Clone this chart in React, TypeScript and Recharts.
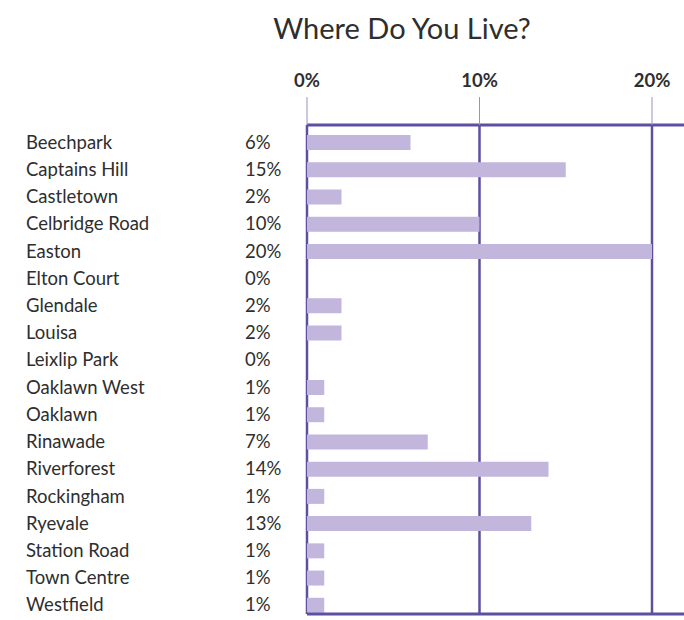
import { BarChart, Bar, XAxis, YAxis, CartesianGrid } from 'recharts';

const areas = [
  'Beechpark', 'Captains Hill', 'Castletown', 'Celbridge Road', 'Easton', 'Elton Court',
  'Glendale', 'Louisa', 'Leixlip Park', 'Oaklawn West', 'Oaklawn', 'Rinawade',
  'Riverforest', 'Rockingham', 'Ryevale', 'Station Road', 'Town Centre', 'Westfield',
];
const shares = [6, 15, 2, 10, 20, 0, 2, 2, 0, 1, 1, 7, 14, 1, 13, 1, 1, 1];
const axisTicks = [0, 10, 20];

const data = areas.map((name, i) => ({ name, share: shares[i] }));

const FONT = 'Lato, "Open Sans", sans-serif';
const DARK = '#2e2e2e';
const FRAME = '#5e4fa3';

const AreaTick = ({ y, payload }: any) => {
  const row = data[payload.index];
  return (
    <g>
      <text x={26} y={y} dy={6} fill={DARK} fontSize={18.5} fontFamily={FONT} textAnchor="start">
        {payload.value}
      </text>
      <text x={245} y={y} dy={6} fill={DARK} fontSize={18.5} fontFamily={FONT} textAnchor="start">
        {row ? `${row.share}%` : ''}
      </text>
    </g>
  );
};

export default function App() {
  return (
    <div style={{ position: 'absolute', left: 0, top: 0, width: 684, height: 620, overflow: 'hidden', background: '#fff' }}>
      <div
        style={{
          position: 'absolute', left: 0, top: 9, width: 804, textAlign: 'center',
          fontFamily: FONT, fontSize: 29, color: DARK, lineHeight: '38px',
        }}
      >
        Where Do You Live?
      </div>
      <BarChart
        width={700}
        height={620}
        data={data}
        layout="vertical"
        margin={{ top: 65, right: 13.5, bottom: 5, left: 0 }}
      >
        <CartesianGrid horizontal={false} stroke={FRAME} strokeWidth={2.5} />
        <XAxis
          type="number"
          orientation="top"
          domain={[0, 22]}
          ticks={axisTicks}
          height={60}
          tickFormatter={(v) => `${v}%`}
          tick={{ fontSize: 18.5, fontWeight: 700, fill: DARK, fontFamily: FONT }}
          tickSize={28}
          tickMargin={10}
          tickLine={{ stroke: '#9a8fcc', strokeWidth: 1 }}
          axisLine={{ stroke: FRAME, strokeWidth: 3 }}
        />
        <XAxis
          xAxisId="b"
          type="number"
          orientation="bottom"
          domain={[0, 22]}
          ticks={axisTicks}
          height={1}
          tick={false}
          tickLine={false}
          axisLine={{ stroke: FRAME, strokeWidth: 3 }}
        />
        <YAxis
          type="category"
          dataKey="name"
          width={307}
          axisLine={false}
          tickLine={false}
          interval={0}
          padding={{ top: 4, bottom: -5 }}
          tick={<AreaTick />}
        />
        <Bar dataKey="share" fill="#c3b6dc" barSize={15} isAnimationActive={false} />
      </BarChart>
    </div>
  );
}
